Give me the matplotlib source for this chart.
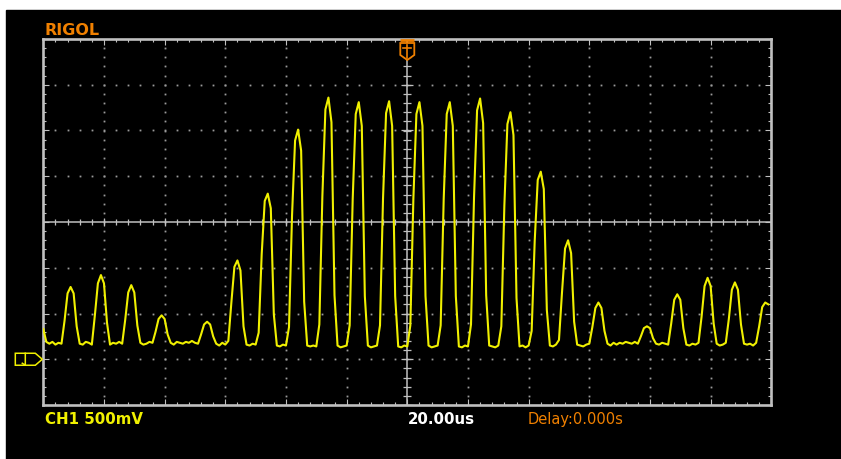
import matplotlib
matplotlib.use("Agg")
import matplotlib.pyplot as plt
import numpy as np
from matplotlib.patches import Polygon, Rectangle

# CH1 capture, one sample per microsecond, -120 us .. 119 us (trigger at 0)
t_us = np.arange(-120, 120)
ch1_volts = [
    0.33, 0.19, 0.17, 0.19, 0.16, 0.18, 0.17, 0.42, 0.72, 0.79,
    0.72, 0.36, 0.17, 0.16, 0.19, 0.18, 0.16, 0.48, 0.83, 0.92,
    0.83, 0.40, 0.16, 0.18, 0.17, 0.19, 0.17, 0.43, 0.73, 0.81,
    0.73, 0.37, 0.18, 0.16, 0.17, 0.19, 0.18, 0.30, 0.44, 0.48,
    0.44, 0.27, 0.18, 0.16, 0.19, 0.18, 0.17, 0.19, 0.18, 0.20,
    0.18, 0.17, 0.27, 0.38, 0.41, 0.38, 0.25, 0.17, 0.15, 0.18,
    0.16, 0.20, 0.62, 1.01, 1.08, 0.97, 0.36, 0.16, 0.15, 0.17,
    0.16, 0.29, 1.15, 1.73, 1.81, 1.65, 0.49, 0.15, 0.14, 0.16,
    0.15, 0.35, 1.57, 2.39, 2.51, 2.28, 0.63, 0.15, 0.14, 0.15,
    0.14, 0.38, 1.78, 2.73, 2.86, 2.59, 0.70, 0.15, 0.13, 0.14,
    0.15, 0.37, 1.75, 2.68, 2.81, 2.55, 0.69, 0.15, 0.13, 0.14,
    0.15, 0.37, 1.76, 2.69, 2.82, 2.55, 0.69, 0.14, 0.13, 0.15,
    0.14, 0.37, 1.75, 2.68, 2.81, 2.55, 0.69, 0.15, 0.13, 0.14,
    0.15, 0.37, 1.75, 2.68, 2.81, 2.55, 0.69, 0.14, 0.13, 0.15,
    0.14, 0.38, 1.77, 2.72, 2.85, 2.58, 0.70, 0.15, 0.14, 0.13,
    0.15, 0.36, 1.68, 2.57, 2.70, 2.45, 0.67, 0.14, 0.15, 0.13,
    0.15, 0.31, 1.29, 1.96, 2.05, 1.86, 0.54, 0.15, 0.14, 0.16,
    0.21, 0.73, 1.21, 1.30, 1.16, 0.41, 0.16, 0.15, 0.14, 0.16,
    0.17, 0.35, 0.56, 0.62, 0.56, 0.31, 0.17, 0.15, 0.18, 0.16,
    0.18, 0.17, 0.19, 0.18, 0.17, 0.19, 0.17, 0.25, 0.34, 0.36,
    0.34, 0.23, 0.17, 0.16, 0.18, 0.17, 0.16, 0.39, 0.65, 0.71,
    0.65, 0.34, 0.16, 0.15, 0.17, 0.16, 0.18, 0.46, 0.80, 0.89,
    0.80, 0.39, 0.17, 0.15, 0.16, 0.18, 0.44, 0.76, 0.84, 0.76,
    0.38, 0.17, 0.16, 0.17, 0.15, 0.18, 0.36, 0.57, 0.62, 0.60,
]

time_per_div = 20.0     # us
volts_per_div = 0.5     # V
ch1_offset_divs = 3     # ground sits 3 divisions below centre
header = "RIGOL"
ch1_label = "CH1 500mV"
timebase_label = "20.00us"
delay_label = "Delay:0.000s"

ORANGE = "#f08000"
YELLOW = "#f0f000"
FRAME = "#c0c0c0"
DOTS = "#9a9a9a"

W, H = 841, 459
fig = plt.figure(figsize=(W / 100, H / 100), dpi=100, facecolor="white")
fig.patches.append(Rectangle((6 / W, 0), 1 - 6 / W, 1 - 10 / H,
                             transform=fig.transFigure, color="black", zorder=-10))

# screen area: 12 x 8 divisions
ax = fig.add_axes([43.3 / W, 1 - 405 / H, 728 / W, 366 / H])
ax.set_zorder(1)
ax.set_facecolor("black")
x0, x1 = -6 * time_per_div, 6 * time_per_div
v_mid = ch1_offset_divs * volts_per_div
y0, y1 = v_mid - 4 * volts_per_div, v_mid + 4 * volts_per_div
ax.set_xlim(x0, x1)
ax.set_ylim(y0, y1)

px_x = (x1 - x0) / 728.0   # us per pixel
px_y = (y1 - y0) / 366.0   # V per pixel

for s in ax.spines.values():
    s.set_color(FRAME)
    s.set_linewidth(1.9)

xmaj = np.arange(x0, x1 + 1, time_per_div)
ymaj = np.arange(y0, y1 + 0.01, volts_per_div)
xmin = np.arange(x0, x1 + 1, time_per_div / 5)
ymin = np.arange(y0, y1 + 0.001, volts_per_div / 5)
ax.set_xticks(xmaj)
ax.set_yticks(ymaj)
ax.set_xticks(xmin, minor=True)
ax.set_yticks(ymin, minor=True)
ax.tick_params(which="both", direction="in", top=True, right=True,
               labelbottom=False, labelleft=False, color=FRAME, width=0.8)
ax.tick_params(which="major", length=4.5)
ax.tick_params(which="minor", length=2.3)

# dotted graticule
for xv in xmaj[1:-1]:
    if xv == 0:
        continue
    ax.plot(np.full(len(ymin) - 2, xv), ymin[1:-1], ls="none", marker="s",
            ms=1.3, mew=0, color=DOTS, zorder=1)
for yv in ymaj[1:-1]:
    if abs(yv - v_mid) < 1e-6:
        continue
    ax.plot(xmin[1:-1], np.full(len(xmin) - 2, yv), ls="none", marker="s",
            ms=1.3, mew=0, color=DOTS, zorder=1)

# centre cross with its own ticks
ax.axvline(0, color=FRAME, lw=1.1, zorder=2)
ax.axhline(v_mid, color=FRAME, lw=1.1, zorder=2)
ax.plot(np.zeros(len(ymin)), ymin, ls="none", marker="_", ms=6, mew=0.9,
        color=FRAME, zorder=2)
ax.plot(np.zeros(len(ymaj)), ymaj, ls="none", marker="_", ms=8, mew=0.9,
        color=FRAME, zorder=2)
ax.plot(xmin, np.full(len(xmin), v_mid), ls="none", marker="|", ms=4, mew=0.9,
        color=FRAME, zorder=2)
ax.plot(xmaj, np.full(len(xmaj), v_mid), ls="none", marker="|", ms=6, mew=0.9,
        color=FRAME, zorder=2)

# the trace
ax.plot(t_us, ch1_volts, color=YELLOW, lw=1.5, zorder=5)

# trigger position marker at the top
def px(dx, dy, xa, ya):
    return (xa + dx * px_x, ya - dy * px_y)

trig = [px(-7, 4, 0, y1), px(-7, 16, 0, y1), px(0, 21, 0, y1),
        px(7, 16, 0, y1), px(7, 4, 0, y1)]
ax.add_patch(Polygon(trig, closed=True, facecolor="black", edgecolor=ORANGE,
                     lw=1.3, zorder=6, clip_on=False))
ax.plot([px(-7, 1, 0, y1)[0], px(7, 1, 0, y1)[0]], [px(0, 1, 0, y1)[1]] * 2,
        color=ORANGE, lw=2, zorder=7, clip_on=False, solid_capstyle="butt")
ax.plot([px(-4, 9, 0, y1)[0], px(4, 9, 0, y1)[0]], [px(0, 9, 0, y1)[1]] * 2,
        color=ORANGE, lw=1.2, zorder=7, clip_on=False)
ax.plot([0, 0], [px(0, 6, 0, y1)[1], px(0, 19, 0, y1)[1]],
        color=ORANGE, lw=1.2, zorder=7, clip_on=False)

# channel 1 ground marker on the left
g0 = 0.0
gnd = [px(-1, 0, x0, g0), px(-8, 6, x0, g0), px(-28, 6, x0, g0),
       px(-28, -6, x0, g0), px(-8, -6, x0, g0)]
ax.add_patch(Polygon(gnd, closed=True, facecolor="black", edgecolor=YELLOW,
                     lw=1.1, zorder=6, clip_on=False))
one = [px(-21, 4, x0, g0), px(-18, 6, x0, g0), px(-18, -6, x0, g0)]
ax.plot([p[0] for p in one], [p[1] for p in one], color=YELLOW, lw=1.1,
        zorder=7, clip_on=False)

# status texts
fig.text(45 / W, 1 - 35 / H, header, color=ORANGE, fontsize=11.5,
         fontweight="bold", va="baseline", ha="left")
fig.text(45 / W, 1 - 424 / H, ch1_label, color=YELLOW, fontsize=10.8,
         fontweight="bold", va="baseline", ha="left")
fig.text(408 / W, 1 - 424 / H, timebase_label, color="white", fontsize=10.8,
         fontweight="bold", va="baseline", ha="left")
fig.text(528 / W, 1 - 424 / H, delay_label, color=ORANGE, fontsize=10.5,
         va="baseline", ha="left")

fig.savefig("out.png", dpi=100, facecolor=fig.get_facecolor())
